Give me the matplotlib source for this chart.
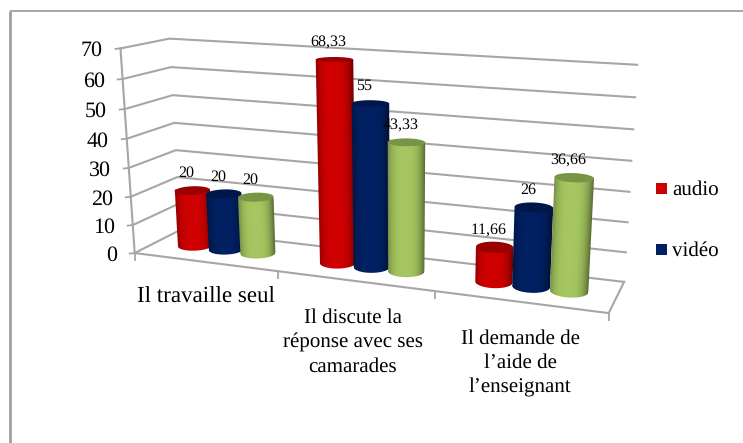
import numpy as np
import matplotlib
matplotlib.use("Agg")
import matplotlib.pyplot as plt
from matplotlib.patches import Polygon, Rectangle

categories = ["Il travaille seul", "Il discute la\nréponse avec ses\ncamarades", "Il demande de\nl’aide de\nl’enseignant"]
audio = [20, 68.33, 11.66]
video = [20, 55, 26]
third = [20, 43.33, 36.66]
value_labels = [["20", "68,33", "11,66"], ["20", "55", "26"], ["20", "43,33", "36,66"]]
y_ticks = [0, 10, 20, 30, 40, 50, 60, 70]
legend_names = ["audio", "vidéo"]
colors = [((0.80, 0.0, 0.0), (0.60, 0.0, 0.0)),
          ((0.0, 0.125, 0.38), (0.0, 0.09, 0.29)),
          ((0.635, 0.765, 0.37), (0.47, 0.58, 0.27))]

plt.rcParams['font.family'] = ['Liberation Serif', 'DejaVu Serif']
plt.rcParams['text.hinting'] = 'no_hinting'
plt.rcParams['text.hinting_factor'] = 1
fig = plt.figure(figsize=(7.43, 4.43), dpi=100)
ax = fig.add_axes([0, 0, 1, 1])
ax.set_xlim(0, 743)
ax.set_ylim(443, 0)
ax.autoscale(False)
ax.axis('off')

# camera calibration: box corners (category x, value, depth) -> pixels
world = np.array([[0, 0, 0], [0, 70, 0], [0, 0, 1], [0, 70, 1], [3, 0, 1], [3, 70, 1], [3, 0, 0],
                  [1, 0, 0], [2, 0, 0]], float)
pix = np.array([[135, 252], [121, 49], [181, 232], [169, 37], [624, 280], [637, 66], [610, 313],
                [277, 270], [434, 293]], float)
A = []
b = []
for (X, Y, Z), (u, v) in zip(world, pix):
    A.append([X, Y / 70, Z, 1, 0, 0, 0, 0, -u * X, -u * Y / 70, -u * Z])
    b.append(u)
    A.append([0, 0, 0, 0, X, Y / 70, Z, 1, -v * X, -v * Y / 70, -v * Z])
    b.append(v)
sol = np.linalg.lstsq(np.array(A), np.array(b), rcond=None)[0]
P = np.append(sol, 1).reshape(3, 4)


def proj(x, y, z):
    x, y, z = np.broadcast_arrays(np.asarray(x, float), np.asarray(y, float) / 70, np.asarray(z, float))
    h = P @ np.stack([x, y, z, np.ones_like(x)])
    return h[0] / h[2], h[1] / h[2]


GRID = '#a6a6a6'
ax.plot([10, 10], [443, 10.5], color='#a0a0a0', lw=2.0, zorder=1, solid_capstyle='butt')
ax.plot([10, 743], [10.5, 10.5], color='#a0a0a0', lw=1.3, zorder=1, solid_capstyle='butt')

for t in y_ticks:
    xs, ys = proj([0, 0, 3], [t, t, t], [0, 1, 1])
    ax.plot(xs, ys, color=GRID, lw=1.5, zorder=2)
    tx, ty = proj(0, t, 0)
    ax.plot([tx - 5, tx], [ty + 0.5, ty], color=GRID, lw=1.3, zorder=2)
    ax.text(tx - 18, ty + 2.5, str(t), ha='right', va='center', fontsize=15.5, color='black', zorder=6)

xs, ys = proj([0, 0, 3, 3, 0], [70, 0, 0, 0, 0], [0, 0, 0, 1, 0])
ax.plot(xs[:2], ys[:2], color=GRID, lw=1.5, zorder=2)
ax.plot(xs[1:4], ys[1:4], color=GRID, lw=1.5, zorder=2)
for c in range(4):
    tx, ty = proj(c, 0, 0)
    ax.plot([tx, tx], [ty, ty + 7], color=GRID, lw=1.3, zorder=2)

r = 0.11
rz = 0.20
zc = 0.5
offsets = [-0.225, 0.0, 0.225]
group_x = [0.5, 1.5, 2.5]
series = [audio, video, third]


def wall_image(xc, val, body):
    """Shaded cylinder wall as a pixel-aligned RGBA image, with soft silhouette."""
    ts = np.linspace(0, 2 * np.pi, 721)[:-1]
    bx, by = proj(xc + r * np.cos(ts), 0, zc - rz * np.sin(ts))
    ux, uy = proj(xc + r * np.cos(ts), val, zc - rz * np.sin(ts))
    y0 = int(np.floor(min(uy.min(), by.min()))) - 1
    y1 = int(np.ceil(max(uy.max(), by.max()))) + 2
    x0 = int(np.floor(min(ux.min(), bx.min()))) - 1
    x1 = int(np.ceil(max(ux.max(), bx.max()))) + 2
    px, py = np.meshgrid(np.arange(x0, x1) + 0.5, np.arange(y0, y1) + 0.5)
    il, ir = np.argmin(bx), np.argmax(bx)
    jl, jr = np.argmin(ux), np.argmax(ux)
    yt = 0.5 * (uy[jl] + uy[jr])
    wl = (py - by[il]) / (uy[jl] - by[il])
    wr = (py - by[ir]) / (uy[jr] - by[ir])
    left = bx[il] + wl * (ux[jl] - bx[il])
    right = bx[ir] + wr * (ux[jr] - bx[ir])
    # lower arc of the base ellipse, between its left and right extremes
    n = len(ts)
    idx = np.arange(ir, ir + (il - ir) % n + 1) % n
    arc_x, arc_y = bx[idx], by[idx]
    order = np.argsort(arc_x)
    ybot = np.interp(px, arc_x[order], arc_y[order])
    s = np.clip((px - left) / (right - left), 0, 1)
    p = 2 * s - 1
    f = 1.02 - 0.38 * np.abs(p + 0.08) ** 3.2
    alpha = (np.clip(px - left + 0.5, 0, 1) * np.clip(right - px + 0.5, 0, 1)
             * np.clip(ybot - py + 0.5, 0, 1) * np.clip(py - yt + 0.5, 0, 1))
    img = np.zeros(px.shape + (4,))
    for k in range(3):
        img[..., k] = np.clip(body[k] * f, 0, 1)
    img[..., 3] = alpha
    return img, (x0, x1, y1, y0)


zo = 3.0
for g, gx in enumerate(group_x):
    for s_i, vals in enumerate(series):
        xc = gx + offsets[s_i]
        val = vals[g]
        body, top = colors[s_i]
        img, ext = wall_image(xc, val, body)
        ax.imshow(img, extent=ext, origin='upper', interpolation='nearest', aspect='auto', zorder=zo)
        zo += 0.01
        ts = np.linspace(0, 2 * np.pi, 121)
        cx_, cy_ = proj(xc + r * np.cos(ts), val, zc - rz * np.sin(ts))
        ax.add_patch(Polygon(np.column_stack([cx_, cy_]), closed=True, facecolor=top, edgecolor='none', snap=False, zorder=zo))
        zo += 0.01
        lx, ly = proj(xc, val, zc)
        ax.text(lx - 6, ly - 17, value_labels[s_i][g], ha='center', va='center', fontsize=11.5, color='black', zorder=8)

ax.set_xlim(0, 743)
ax.set_ylim(443, 0)

label_pos = [(206, 297), (353, 342), (520, 363)]
label_sizes = [16.3, 15.2, 15.3]
for lab, (lx, ly), fs in zip(categories, label_pos, label_sizes):
    ax.text(lx, ly, lab, ha='center', va='center', fontsize=fs, color='black', linespacing=1.36, zorder=6)

legend_y = [190, 251]
for name, y, (c, _) in zip(legend_names, legend_y, colors):
    ax.add_patch(Rectangle((656, y - 7), 11, 11, facecolor=c, edgecolor='none', zorder=6))
    ax.text(672, y, name, ha='left', va='center', fontsize=15.3, color='black', zorder=6)

fig.savefig('out.png', dpi=100)
